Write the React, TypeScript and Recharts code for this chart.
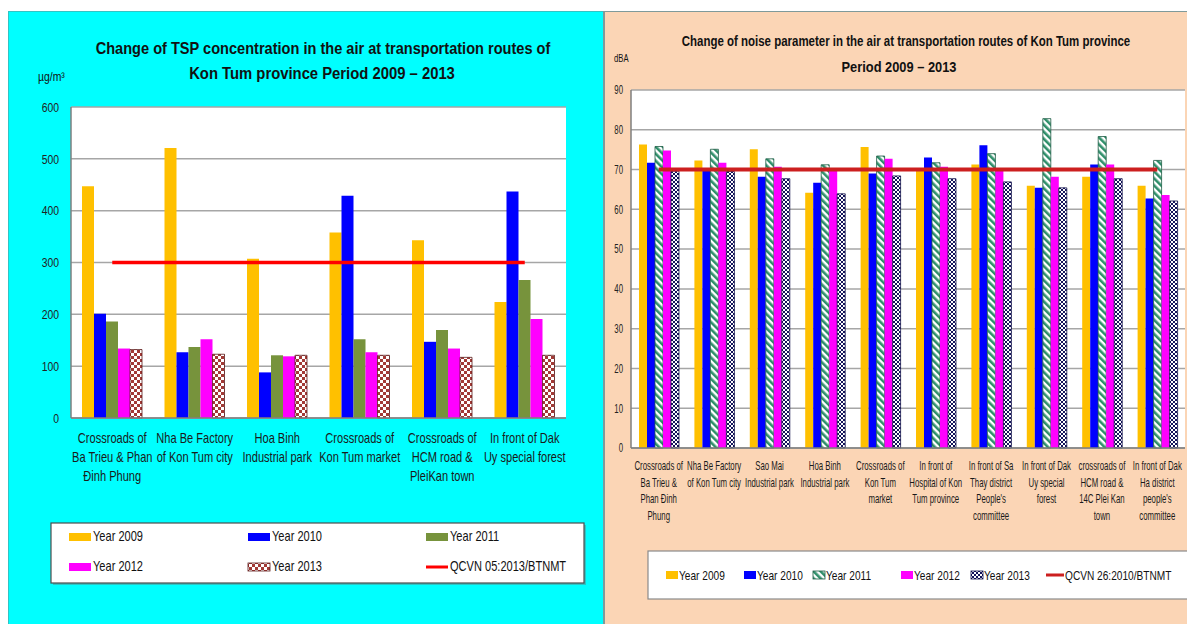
import React from "react";
import { ComposedChart, Bar, Line, XAxis, YAxis, CartesianGrid } from "recharts";

const FONT = "'Liberation Sans', Arial, Helvetica, sans-serif";

// ---- TSP chart (left) ----
const tspSites = [
  "Crossroads of\nBa Trieu & Phan\nĐinh Phung",
  "Nha Be Factory\nof Kon Tum city",
  "Hoa Binh\nIndustrial park",
  "Crossroads of\nKon Tum market",
  "Crossroads of\nHCM road &\nPleiKan town",
  "In front of Dak\nUy special forest",
];
const tsp2009 = [447, 521, 307, 358, 343, 224];
const tsp2010 = [201, 127, 88, 429, 147, 437];
const tsp2011 = [186, 137, 121, 152, 170, 266];
const tsp2012 = [134, 152, 119, 127, 134, 191];
const tsp2013 = [132, 123, 121, 121, 117, 121];
const tspLimit = [300, 300, 300, 300, 300, 300];
const tspTicks = [0, 100, 200, 300, 400, 500, 600];
const tspLimitName = "QCVN 05:2013/BTNMT";

// ---- Noise chart (right) ----
const noiseSites = [
  "Crossroads of\nBa Trieu &\nPhan Đinh\nPhung",
  "Nha Be Factory\nof Kon Tum city",
  "Sao Mai\nIndustrial park",
  "Hoa Binh\nIndustrial park",
  "Crossroads of\nKon Tum\nmarket",
  "In front of\nHospital of Kon\nTum province",
  "In front of Sa\nThay district\nPeople's\ncommittee",
  "In front of Dak\nUy special\nforest",
  "crossroads of\nHCM road &\n14C Plei Kan\ntown",
  "In front of Dak\nHa district\npeople's\ncommittee",
];
const noise2009 = [76.3, 72.3, 75.1, 64.2, 75.7, 70.3, 71.3, 65.9, 68.2, 65.9];
const noise2010 = [71.7, 70.0, 68.2, 66.7, 69.0, 73.0, 76.1, 65.4, 71.3, 62.7];
const noise2011 = [75.8, 75.1, 72.7, 71.2, 73.4, 71.7, 74.0, 82.8, 78.3, 72.3];
const noise2012 = [74.8, 71.7, 70.7, 70.2, 72.7, 70.7, 70.0, 68.2, 71.3, 63.6];
const noise2013 = [69.6, 69.5, 67.7, 63.9, 68.4, 67.7, 66.9, 65.4, 67.7, 62.1];
const noiseLimit = [70, 70, 70, 70, 70, 70, 70, 70, 70, 70];
const noiseTicks = [0, 10, 20, 30, 40, 50, 60, 70, 80, 90];
const noiseLimitName = "QCVN 26:2010/BTNMT";

const years = ["Year 2009", "Year 2010", "Year 2011", "Year 2012", "Year 2013"];
const yearKeys = ["y2009", "y2010", "y2011", "y2012", "y2013"];

const tspTitle = [
  "Change of TSP concentration in the air at transportation routes of",
  "Kon Tum province Period 2009 – 2013",
];
const noiseTitle = [
  "Change of noise parameter in the air at transportation routes of Kon Tum province",
  "Period 2009 – 2013",
];

const tspFills = ["#FFC000", "#0000FF", "#77933C", "#FF00FF", "url(#tspCheck)"];
const tspStrokes = ["none", "none", "none", "none", "#5a1a1a"];
const noiseFills = ["#FFC000", "#0000FF", "url(#noiseStripe)", "#FF00FF", "url(#noiseCheck)"];
const noiseStrokes = ["none", "none", "#1d5c44", "none", "#10104a"];

const tspData = tspSites.map((name, i) => ({
  name,
  y2009: tsp2009[i],
  y2010: tsp2010[i],
  y2011: tsp2011[i],
  y2012: tsp2012[i],
  y2013: tsp2013[i],
  limit: tspLimit[i],
}));

const noiseData = noiseSites.map((name, i) => ({
  name,
  y2009: noise2009[i],
  y2010: noise2010[i],
  y2011: noise2011[i],
  y2012: noise2012[i],
  y2013: noise2013[i],
  limit: noiseLimit[i],
}));

let measureCtx: CanvasRenderingContext2D | null = null;
function textWidth(text: string, size: number, weight: number) {
  if (!measureCtx) measureCtx = document.createElement("canvas").getContext("2d");
  if (!measureCtx) return text.length * size * 0.5;
  measureCtx.font = `${weight} ${size}px "Liberation Sans", Arial, sans-serif`;
  return measureCtx.measureText(text).width;
}

const makeXTick = (size: number, lineH: number, firstDy: number, sx: number) => (props: any) => {
  const { x, y, payload } = props;
  const lines = String(payload.value).split("\n");
  return (
    <g transform={`translate(${x},${y}) scale(${sx},1)`}>
      <text textAnchor="middle" fontSize={size} fontFamily={FONT} fill="#1a1a1a">
        {lines.map((l, i) => (
          <tspan key={i} x={0} y={firstDy + i * lineH}>
            {l}
          </tspan>
        ))}
      </text>
    </g>
  );
};

const makeYTick = (size: number, sx: number) => (props: any) => {
  const { x, y, payload } = props;
  return (
    <g transform={`translate(${x},${y}) scale(${sx},1)`}>
      <text textAnchor="end" dy="0.36em" fontSize={size} fontFamily={FONT} fill="#222">
        {payload.value}
      </text>
    </g>
  );
};

const Txt = ({ x, y, text, size, sx = 1, anchor = "start", weight = 400 }: any) => (
  <g transform={`translate(${x},${y}) scale(${sx},1)`}>
    <text textAnchor={anchor} dominantBaseline="central" fontSize={size} fontWeight={weight} fontFamily={FONT} fill="#111">
      {text}
    </text>
  </g>
);

// centred bold title squeezed to a given width
const Title = ({ cx, y, text, size, width }: any) => {
  const sx = width / textWidth(text, size, 700);
  return <Txt x={cx} y={y} text={text} size={size} sx={sx} anchor="middle" weight={700} />;
};

const axisStyle = { stroke: "#7f7f7f", strokeWidth: 1.5 };

function TspChart() {
  return (
    <ComposedChart
      width={595}
      height={613}
      data={tspData}
      margin={{ top: 96, right: 37, left: 0, bottom: 146 }}
      barCategoryGap={11}
      barGap={0}
    >
      <CartesianGrid vertical={false} stroke="#a6a6a6" strokeWidth={1.5} fill="#ffffff" />
      <XAxis
        dataKey="name"
        interval={0}
        height={60}
        tickLine={false}
        tickSize={0}
        tickMargin={0}
        axisLine={axisStyle}
        tick={makeXTick(14, 19, 25, 0.79)}
      />
      <YAxis
        domain={[0, 600]}
        ticks={tspTicks}
        interval={0}
        width={63}
        tickLine={false}
        tickSize={0}
        tickMargin={12}
        axisLine={axisStyle}
        tick={makeYTick(13, 0.8)}
      />
      <YAxis yAxisId="frame" orientation="right" width={0} domain={[0, 1]} tick={false} tickLine={false} axisLine={axisStyle} />
      {yearKeys.map((k, i) => (
        <Bar
          key={k}
          dataKey={k}
          name={years[i]}
          fill={tspFills[i]}
          stroke={tspStrokes[i]}
          strokeWidth={0.8}
          isAnimationActive={false}
        />
      ))}
      <Line
        dataKey="limit"
        name={tspLimitName}
        stroke="#ff0000"
        strokeWidth={3.5}
        dot={false}
        activeDot={false}
        isAnimationActive={false}
      />
    </ComposedChart>
  );
}

function NoiseChart() {
  return (
    <ComposedChart
      width={584}
      height={613}
      data={noiseData}
      margin={{ top: 79, right: 2, left: 0, bottom: 116 }}
      barCategoryGap={8}
      barGap={0}
    >
      <CartesianGrid vertical={false} stroke="#a6a6a6" strokeWidth={1.5} fill="#ffffff" />
      <XAxis
        dataKey="name"
        interval={0}
        height={60}
        tickLine={false}
        tickSize={0}
        tickMargin={0}
        axisLine={axisStyle}
        tick={makeXTick(13, 16.5, 22.5, 0.6)}
      />
      <YAxis
        domain={[0, 90]}
        ticks={noiseTicks}
        interval={0}
        width={28}
        tickLine={false}
        tickSize={0}
        tickMargin={8}
        axisLine={axisStyle}
        tick={makeYTick(12, 0.65)}
      />
      <YAxis yAxisId="frame" orientation="right" width={0} domain={[0, 1]} tick={false} tickLine={false} axisLine={axisStyle} />
      {yearKeys.map((k, i) => (
        <Bar
          key={k}
          dataKey={k}
          name={years[i]}
          fill={noiseFills[i]}
          stroke={noiseStrokes[i]}
          strokeWidth={0.8}
          isAnimationActive={false}
        />
      ))}
      <Line
        dataKey="limit"
        name={noiseLimitName}
        stroke="#cc1f1f"
        strokeWidth={4}
        dot={false}
        activeDot={false}
        isAnimationActive={false}
      />
    </ComposedChart>
  );
}

const Swatch = ({ x, y, w, fill, stroke, line }: any) =>
  line ? (
    <line x1={x} x2={x + w} y1={y} y2={y} stroke={fill} strokeWidth={3} />
  ) : (
    <rect x={x} y={y - 4} width={w} height={8} fill={fill} stroke={stroke === "none" ? undefined : stroke} strokeWidth={0.8} />
  );

function Overlay() {
  // left legend: 3 columns x 2 rows
  const leftItems = [
    ...years.map((n, i) => ({ name: n, fill: tspFills[i], stroke: tspStrokes[i], line: false })),
    { name: tspLimitName, fill: "#ff0000", stroke: "none", line: true },
  ];
  const leftCols = [69, 248, 426];
  const leftRows = [537, 567];
  const rightItems = [
    ...years.map((n, i) => ({ name: n, fill: noiseFills[i], stroke: noiseStrokes[i], line: false })),
    { name: noiseLimitName, fill: "#cc1f1f", stroke: "none", line: true },
  ];
  const rightCols = [666, 744, 813, 901, 971, 1046];
  return (
    <svg width={1187} height={624} style={{ position: "absolute", left: 0, top: 0, pointerEvents: "none" }}>
      <defs>
        <pattern id="tspCheck" width="6" height="6" patternUnits="userSpaceOnUse">
          <rect width="6" height="6" fill="#ffffff" />
          <rect x="0" y="0" width="3" height="3" fill="#a33a36" />
          <rect x="3" y="3" width="3" height="3" fill="#a33a36" />
        </pattern>
        <pattern id="noiseCheck" width="4" height="4" patternUnits="userSpaceOnUse">
          <rect width="4" height="4" fill="#ffffff" />
          <rect x="0" y="0" width="2" height="2" fill="#14145a" />
          <rect x="2" y="2" width="2" height="2" fill="#14145a" />
        </pattern>
        <pattern id="noiseStripe" width="5" height="5" patternUnits="userSpaceOnUse" patternTransform="rotate(-45)">
          <rect width="5" height="5" fill="#ffffff" />
          <rect width="2.6" height="5" fill="#2f8f6a" />
        </pattern>
      </defs>

      {/* left titles */}
      <Title cx={323} y={48} text={tspTitle[0]} size={17} width={455} />
      <Title cx={322} y={73} text={tspTitle[1]} size={17} width={266} />
      <Txt x={38} y={76} text="µg/m³" size={13} sx={0.8} />

      {/* right titles */}
      <Title cx={906} y={41} text={noiseTitle[0]} size={15} width={449} />
      <Title cx={899} y={67} text={noiseTitle[1]} size={15} width={115} />
      <Txt x={614} y={58} text="dBA" size={11} sx={0.7} />

      {/* left legend */}
      <rect x={53} y={525} width={533} height={60} fill="#5a8a8a" opacity={0.5} />
      <rect x={51} y={523} width={533} height={60} fill="#ffffff" stroke="#4d4d4d" strokeWidth={1.2} />
      {leftItems.map((it, i) => {
        const cx = leftCols[i % 3];
        const cy = leftRows[Math.floor(i / 3)];
        return (
          <g key={it.name}>
            <Swatch x={cx} y={cy} w={22} fill={it.fill} stroke={it.stroke} line={it.line} />
            <Txt x={cx + 24} y={cy} text={it.name} size={14} sx={0.79} />
          </g>
        );
      })}

      {/* right legend */}
      <rect x={648} y={551} width={545} height={48} fill="#ffffff" stroke="#8a8a8a" strokeWidth={1.2} />
      {rightItems.map((it, i) => {
        const cx = rightCols[i];
        const w = it.line ? 18 : 12;
        return (
          <g key={it.name}>
            <Swatch x={cx} y={575} w={w} fill={it.fill} stroke={it.stroke} line={it.line} />
            <Txt x={cx + w + 1} y={575} text={it.name} size={13} sx={0.78} />
          </g>
        );
      })}
    </svg>
  );
}

export default function App() {
  return (
    <div style={{ position: "absolute", left: 0, top: 0, width: 1187, height: 624, overflow: "hidden", background: "#ffffff" }}>
      <div
        style={{
          position: "absolute",
          left: 8,
          top: 11,
          width: 595,
          height: 613,
          background: "#00FFFF",
          boxShadow: "inset 1px 1px 0 #33c4c4",
        }}
      >
        <TspChart />
      </div>
      <div
        style={{
          position: "absolute",
          left: 603,
          top: 11,
          width: 584,
          height: 613,
          background: "#FBD5B5",
          boxShadow: "inset 2px 1px 0 #7f9a9a",
        }}
      >
        <NoiseChart />
      </div>
      <Overlay />
    </div>
  );
}
